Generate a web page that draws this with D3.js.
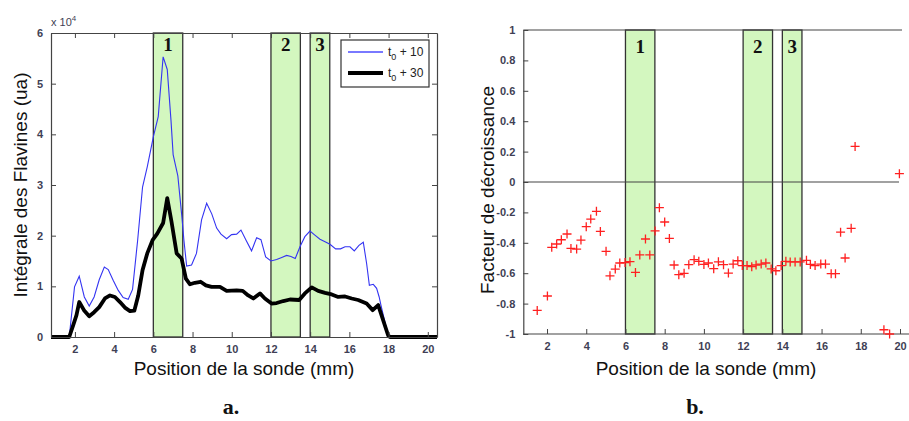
<!DOCTYPE html>
<html><head><meta charset="utf-8">
<script src="https://cdn.jsdelivr.net/npm/d3@7/dist/d3.min.js"></script>
<style>body{margin:0;background:#fff}svg{display:block}</style>
</head><body>
<svg id="c" width="909" height="421"></svg>
<script>
// ---------- data ----------
const pos10 = [0.78,1.71,1.98,2.22,2.48,2.73,2.98,3.24,3.5,3.7,3.95,4.21,4.46,4.72,4.94,5.2,5.45,5.69,6.0,6.25,6.5,6.71,6.9,7.01,7.25,7.45,7.56,7.7,7.95,8.2,8.46,8.72,8.98,9.23,9.45,9.74,9.99,10.25,10.47,10.73,11.01,11.27,11.49,11.73,12.0,12.29,12.55,12.8,13.02,13.24,13.48,13.73,13.99,14.24,14.5,14.76,15.01,15.3,15.55,15.78,16.03,16.25,16.49,16.71,16.88,17.02,17.22,17.39,17.52,17.61,17.98,18.07,20.47];
const val10 = [0,0,0.99,1.2,0.79,0.61,0.79,1.13,1.38,1.33,1.12,0.92,0.78,0.745,0.94,1.91,2.96,3.36,3.95,4.35,5.53,5.28,4.28,3.6,3.18,2.4,1.91,1.4,1.42,1.65,2.31,2.64,2.43,2.15,2.03,1.94,2.02,2.03,2.11,1.91,1.70,1.96,1.92,1.58,1.50,1.53,1.57,1.61,1.59,1.55,1.78,1.98,2.09,2.01,1.93,1.88,1.83,1.74,1.74,1.78,1.78,1.70,1.81,1.87,1.45,1.02,1.04,0.96,0.79,0.63,0.02,0,0];
const pos30 = [0.78,1.71,1.91,2.08,2.22,2.46,2.73,2.98,3.24,3.53,3.79,4.04,4.3,4.55,4.81,5.03,5.23,5.45,5.69,5.96,6.2,6.5,6.71,6.93,7.19,7.44,7.66,7.87,8.12,8.41,8.68,8.97,9.4,9.74,10.25,10.56,10.84,11.1,11.44,11.69,12.03,12.29,12.63,12.97,13.44,13.73,14.08,14.41,14.76,15.1,15.43,15.78,16.12,16.45,16.88,17.19,17.47,17.98,18.07,20.47];
const val30 = [0,0,0.23,0.43,0.69,0.53,0.41,0.49,0.59,0.76,0.82,0.79,0.69,0.58,0.51,0.52,0.82,1.32,1.65,1.91,2.04,2.25,2.74,2.27,1.65,1.55,1.15,1.04,1.07,1.09,1.02,0.99,0.99,0.91,0.92,0.91,0.82,0.76,0.86,0.76,0.66,0.67,0.71,0.74,0.73,0.86,0.98,0.91,0.87,0.84,0.79,0.80,0.76,0.73,0.66,0.53,0.63,0.03,0,0];
const decayPos = [1.5,2.02,2.24,2.49,2.73,3.02,3.22,3.51,3.73,4.0,4.23,4.52,4.72,5.01,5.21,5.48,5.71,5.98,6.23,6.51,6.73,7.02,7.24,7.51,7.73,8.0,8.24,8.48,8.72,8.99,9.23,9.5,9.74,10.0,10.23,10.5,10.74,11.0,11.25,11.49,11.73,11.96,12.2,12.44,12.66,12.92,13.16,13.43,13.67,13.94,14.18,14.4,14.65,14.91,15.23,15.43,15.67,15.96,16.2,16.49,16.71,16.97,17.2,17.51,17.71,19.18,19.47,19.97];
const decayVal = [-0.845,-0.75,-0.43,-0.408,-0.38,-0.342,-0.437,-0.441,-0.382,-0.294,-0.244,-0.193,-0.325,-0.456,-0.617,-0.573,-0.533,-0.53,-0.524,-0.595,-0.48,-0.375,-0.48,-0.322,-0.169,-0.263,-0.371,-0.546,-0.61,-0.601,-0.544,-0.511,-0.522,-0.542,-0.533,-0.57,-0.525,-0.544,-0.599,-0.54,-0.518,-0.55,-0.55,-0.557,-0.546,-0.54,-0.533,-0.572,-0.584,-0.55,-0.522,-0.526,-0.526,-0.526,-0.515,-0.542,-0.55,-0.54,-0.54,-0.603,-0.603,-0.33,-0.5,-0.305,0.234,-0.972,-1.0,0.055];
const bandStart = [6,12,14];
const bandEnd = [7.5,13.5,15];
const bandLabels = ["1","2","3"];
const xTicks = [2,4,6,8,10,12,14,16,18,20];
const yTicksA = [0,1,2,3,4,5,6];
const yTicksB = [-1,-0.8,-0.6,-0.4,-0.2,0,0.2,0.4,0.6,0.8,1];
const yTickLabelsB = ["-1","-0.8","-0.6","-0.4","-0.2","0","0.2","0.4","0.6","0.8","1"];
const seriesNames = ["10","30"];

// ---------- drawing ----------
const svg = d3.select("#c");
const axisCol = "#444";
const tickTextCol = "#3f3f55";
const bandFill = "#d3f7bf";

function styleAxis(g){
  g.selectAll("path.domain").attr("stroke", axisCol).attr("stroke-width",1.2);
  g.selectAll(".tick line").attr("stroke", axisCol).attr("stroke-width",1);
  g.selectAll(".tick text").attr("fill", tickTextCol).attr("font-family","Liberation Sans, Arial, sans-serif").attr("font-size",11).attr("font-weight","bold");
}

// ===== Chart a =====
const xa = d3.scaleLinear().domain([0.78,20.47]).range([51,437]);
const ya = d3.scaleLinear().domain([0,6]).range([337,33]);
const A = svg.append("g");

// bands
bandStart.forEach((s,i)=>{
  A.append("rect").attr("x",xa(s)).attr("y",ya(6)).attr("width",xa(bandEnd[i])-xa(s)).attr("height",ya(0)-ya(6))
   .attr("fill",bandFill).attr("stroke","#333").attr("stroke-width",1.3);
  A.append("text").attr("x",(xa(s)+xa(bandEnd[i]))/2).attr("y",51).attr("text-anchor","middle")
   .attr("font-family","Liberation Serif, DejaVu Serif, serif").attr("font-weight","bold").attr("font-size",19).attr("fill","#111").text(bandLabels[i]);
});

// lines
const lineA = d3.line().x(d=>xa(d[0])).y(d=>ya(d[1]));
A.append("path").datum(pos10.map((p,i)=>[p,val10[i]])).attr("d",lineA).attr("fill","none").attr("stroke","#3434f2").attr("stroke-width",1.1);
A.append("path").datum(pos30.map((p,i)=>[p,val30[i]])).attr("d",lineA).attr("fill","none").attr("stroke","#000").attr("stroke-width",3.8).attr("stroke-linejoin","round");

// axes
const gxb = A.append("g").attr("transform",`translate(0,${ya(0)})`).call(d3.axisBottom(xa).tickValues(xTicks).tickSizeInner(-5).tickSizeOuter(0).tickPadding(8).tickFormat(d3.format("d")));
styleAxis(gxb);
const gxt = A.append("g").attr("transform",`translate(0,${ya(6)})`).call(d3.axisTop(xa).tickValues(xTicks).tickSizeInner(-5).tickSizeOuter(0).tickFormat(""));
styleAxis(gxt);
const gyl = A.append("g").attr("transform",`translate(${xa.range()[0]},0)`).call(d3.axisLeft(ya).tickValues(yTicksA).tickSizeInner(-5).tickSizeOuter(0).tickPadding(8).tickFormat(d3.format("d")));
styleAxis(gyl);
const gyr = A.append("g").attr("transform",`translate(${xa.range()[1]},0)`).call(d3.axisRight(ya).tickValues(yTicksA).tickSizeInner(-5).tickSizeOuter(0).tickFormat(""));
styleAxis(gyr);

// x10^4
const ex = A.append("text").attr("x",51).attr("y",26).attr("font-family","Liberation Sans, Arial, sans-serif").attr("font-size",11).attr("fill",tickTextCol);
ex.append("tspan").text("x 10");
ex.append("tspan").attr("dy",-5).attr("font-size",8).text("4");

// legend
const lg = A.append("g");
lg.append("rect").attr("x",341).attr("y",40).attr("width",88).attr("height",47).attr("fill","#fff").attr("stroke","#333").attr("stroke-width",1.2);
const legY = [52,73];
const legCol = ["#4d4dff","#000"], legW = [1.5,4];
seriesNames.forEach((n,i)=>{
  lg.append("line").attr("x1",348).attr("x2",383).attr("y1",legY[i]).attr("y2",legY[i]).attr("stroke",legCol[i]).attr("stroke-width",legW[i]);
  const t = lg.append("text").attr("x",388).attr("y",legY[i]+4).attr("font-family","Liberation Sans, Arial, sans-serif").attr("font-size",12).attr("fill","#222");
  t.append("tspan").text("t");
  t.append("tspan").attr("dy",4).attr("font-size",9).text("0");
  t.append("tspan").attr("dy",-4).text(" + "+n);
});

// titles
A.append("text").attr("x",244).attr("y",375).attr("text-anchor","middle").attr("font-family","Liberation Sans, Arial, sans-serif").attr("font-size",19).attr("fill","#111").text("Position de la sonde (mm)");
A.append("text").attr("transform","translate(27,185) rotate(-90)").attr("text-anchor","middle").attr("font-family","Liberation Sans, Arial, sans-serif").attr("font-size",19).attr("fill","#111").text("Intégrale des Flavines (ua)");
A.append("text").attr("x",231).attr("y",414).attr("text-anchor","middle").attr("font-family","Liberation Serif, DejaVu Serif, serif").attr("font-weight","bold").attr("font-size",22).attr("fill","#111").text("a.");

// ===== Chart b =====
const xb = d3.scaleLinear().domain([0.79,20]).range([523.3,900]);
const yb = d3.scaleLinear().domain([-1,1]).range([334,30]);
const B = svg.append("g");

bandStart.forEach((s,i)=>{
  B.append("rect").attr("x",xb(s)).attr("y",yb(1)).attr("width",xb(bandEnd[i])-xb(s)).attr("height",yb(-1)-yb(1))
   .attr("fill",bandFill).attr("stroke","#333").attr("stroke-width",1.3);
  B.append("text").attr("x",(xb(s)+xb(bandEnd[i]))/2).attr("y",53).attr("text-anchor","middle")
   .attr("font-family","Liberation Serif, DejaVu Serif, serif").attr("font-weight","bold").attr("font-size",19).attr("fill","#111").text(bandLabels[i]);
});
// top line & zero line
B.append("line").attr("x1",xb(0.79)).attr("x2",902).attr("y1",yb(1)).attr("y2",yb(1)).attr("stroke",axisCol).attr("stroke-width",1.2);
B.append("line").attr("x1",xb(0.79)).attr("x2",899).attr("y1",yb(0)).attr("y2",yb(0)).attr("stroke",axisCol).attr("stroke-width",1.2);

// axes
const gbx = B.append("g").attr("transform",`translate(0,${yb(-1)})`).call(d3.axisBottom(xb).tickValues(xTicks).tickSizeInner(-5).tickSizeOuter(0).tickPadding(8).tickFormat(d3.format("d")));
gbx.select("path.domain").attr("d",`M${xb(0.79)},0H909`);
styleAxis(gbx);
const gby = B.append("g").attr("transform",`translate(${xb(0.79)},0)`).call(d3.axisLeft(yb).tickValues(yTicksB).tickSizeInner(-5).tickSizeOuter(0).tickPadding(8).tickFormat((d,i)=>yTickLabelsB[i]));
styleAxis(gby);

// points
const sym = d3.symbol().type(d3.symbolCross);
B.selectAll("path.pt").data(decayPos.map((p,i)=>[p,decayVal[i]])).enter().append("path").attr("class","pt")
  .attr("d",d=>`M-4.5,0H4.5M0,-4.5V4.5`)
  .attr("transform",d=>`translate(${xb(d[0])},${yb(d[1])})`)
  .attr("stroke","#ff2020").attr("stroke-width",1.3).attr("fill","none");

B.append("text").attr("x",706).attr("y",375).attr("text-anchor","middle").attr("font-family","Liberation Sans, Arial, sans-serif").attr("font-size",19).attr("fill","#111").text("Position de la sonde (mm)");
B.append("text").attr("transform","translate(494,190) rotate(-90)").attr("text-anchor","middle").attr("font-family","Liberation Sans, Arial, sans-serif").attr("font-size",19).attr("fill","#111").text("Facteur de décroissance");
B.append("text").attr("x",695).attr("y",414).attr("text-anchor","middle").attr("font-family","Liberation Serif, DejaVu Serif, serif").attr("font-weight","bold").attr("font-size",22).attr("fill","#111").text("b.");
</script>
</body></html>
